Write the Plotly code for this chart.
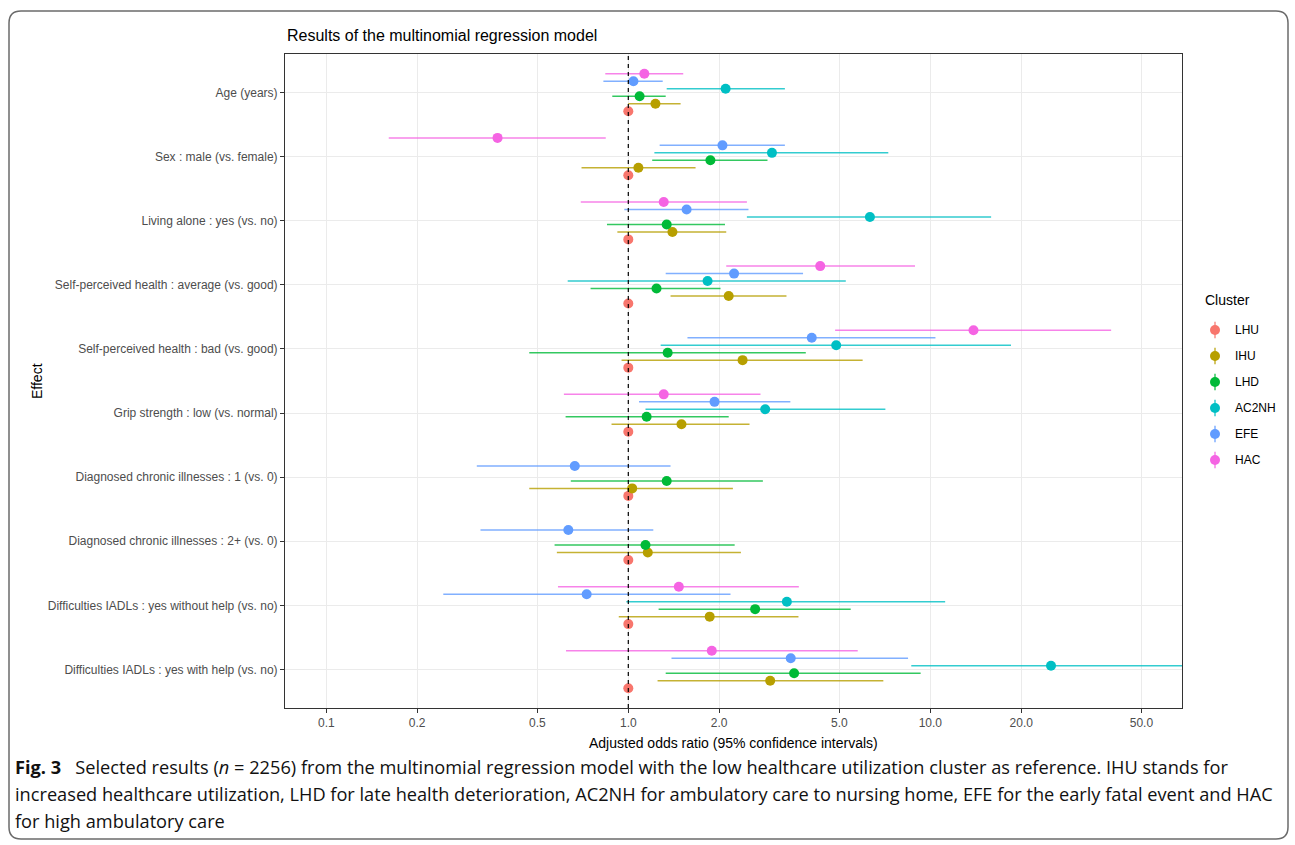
import plotly.graph_objects as go

# ---------------- data ----------------
effects = [
    "Age (years)",
    "Sex : male (vs. female)",
    "Living alone : yes (vs. no)",
    "Self-perceived health : average (vs. good)",
    "Self-perceived health : bad (vs. good)",
    "Grip strength : low (vs. normal)",
    "Diagnosed chronic illnesses : 1 (vs. 0)",
    "Diagnosed chronic illnesses : 2+ (vs. 0)",
    "Difficulties IADLs : yes without help (vs. no)",
    "Difficulties IADLs : yes with help (vs. no)",
]

clusters = ["LHU", "IHU", "LHD", "AC2NH", "EFE", "HAC"]
colors = ["#F8766D", "#B79F00", "#00BA38", "#00BFC4", "#619CFF", "#F564E3"]

lhu_or = [1.0] * 10
lhu_lo = [1.0] * 10
lhu_hi = [1.0] * 10

ihu_or = [1.23, 1.08, 1.40, 2.15, 2.39, 1.50, 1.03, 1.16, 1.86, 2.95]
ihu_lo = [1.00, 0.70, 0.92, 1.38, 0.95, 0.88, 0.47, 0.58, 0.93, 1.25]
ihu_hi = [1.49, 1.67, 2.11, 3.34, 5.97, 2.52, 2.22, 2.36, 3.66, 6.99]

lhd_or = [1.09, 1.87, 1.34, 1.24, 1.35, 1.15, 1.34, 1.14, 2.63, 3.54]
lhd_lo = [0.885, 1.20, 0.85, 0.75, 0.47, 0.62, 0.645, 0.57, 1.26, 1.33]
lhd_hi = [1.33, 2.89, 2.09, 2.02, 3.87, 2.15, 2.79, 2.25, 5.45, 9.29]

ac2nh_or = [2.10, 2.99, 6.31, 1.83, 4.88, 2.84, None, None, 3.35, 25.1]
ac2nh_lo = [1.34, 1.22, 2.47, 0.63, 1.28, 1.14, None, None, 0.985, 8.65]
ac2nh_hi = [3.30, 7.26, 15.9, 5.25, 18.5, 7.10, None, None, 11.2, 100.0]

efe_or = [1.04, 2.05, 1.56, 2.24, 4.05, 1.93, 0.665, 0.633, 0.728, 3.45]
efe_lo = [0.827, 1.27, 0.97, 1.33, 1.57, 1.085, 0.315, 0.324, 0.244, 1.39]
efe_hi = [1.30, 3.30, 2.50, 3.79, 10.4, 3.44, 1.38, 1.21, 2.18, 8.44]

hac_or = [1.13, 0.369, 1.31, 4.32, 13.9, 1.31, None, None, 1.47, 1.89]
hac_lo = [0.839, 0.161, 0.696, 2.11, 4.84, 0.612, None, None, 0.585, 0.622]
hac_hi = [1.52, 0.842, 2.47, 8.90, 39.7, 2.74, None, None, 3.67, 5.75]

series_or = [lhu_or, ihu_or, lhd_or, ac2nh_or, efe_or, hac_or]
series_lo = [lhu_lo, ihu_lo, lhd_lo, ac2nh_lo, efe_lo, hac_lo]
series_hi = [lhu_hi, ihu_hi, lhd_hi, ac2nh_hi, efe_hi, hac_hi]

x_tickvals = [0.1, 0.2, 0.5, 1, 2, 5, 10, 20, 50]
x_ticktext = ["0.1", "0.2", "0.5", "1.0", "2.0", "5.0", "10.0", "20.0", "50.0"]
REFERENCE_OR = 1.0

title_text = "Results of the multinomial regression model"
x_title = "Adjusted odds ratio (95% confidence intervals)"
y_title = "Effect"
legend_title = "Cluster"
caption_lines = [
    "<b>Fig. 3</b>\u00a0\u00a0\u00a0Selected results (<i>n</i>\u00a0=\u00a02256) from the multinomial regression model with the low healthcare utilization cluster as reference. IHU stands for",
    "increased healthcare utilization, LHD for late health deterioration, AC2NH for ambulatory care to nursing home, EFE for the early fatal event and HAC",
    "for high ambulatory care",
]

# ---------------- layout geometry ----------------
W, H = 1295, 845
ML, MR, MT, MB = 285, 10, 54, 137
PW = W - ML - MR
PH = H - MT - MB


def px(xp):
    return (xp - ML) / PW


def py(yp):
    return (H - MB - yp) / PH


n_eff = len(effects)
cat_pos = [n_eff - i for i in range(n_eff)]  # top category highest
dodge = 0.7
n_cl = len(clusters)
offsets = [(k - (n_cl - 1) / 2) * dodge / n_cl for k in range(n_cl)]

font_main = "Liberation Sans, Arial, sans-serif"


def rgba(hexc, a):
    h = hexc.lstrip("#")
    return "rgba(%d,%d,%d,%s)" % (int(h[0:2], 16), int(h[2:4], 16), int(h[4:6], 16), a)


fig = go.Figure()

for k, name in enumerate(clusters):
    xs, ys, ep, em = [], [], [], []
    for i in range(n_eff):
        v = series_or[k][i]
        if v is None:
            continue
        lo = series_lo[k][i]
        hi = series_hi[k][i]
        xs.append(v)
        ys.append(cat_pos[i] + offsets[k])
        ep.append(hi - v)
        em.append(v - lo)
    fig.add_trace(go.Scatter(
        x=xs, y=ys, mode="markers", name=name, showlegend=False,
        marker=dict(color=colors[k], size=10, line=dict(width=0)),
        error_x=dict(type="data", array=ep, arrayminus=em, symmetric=False,
                     width=0, thickness=1.5, color=rgba(colors[k], 0.8)),
        xaxis="x", yaxis="y", hoverinfo="x+name",
    ))

# manual legend (point-range glyphs)
for k, name in enumerate(clusters):
    fig.add_trace(go.Scatter(
        x=[0], y=[n_cl - k], mode="markers", showlegend=False, hoverinfo="skip",
        marker=dict(color=colors[k], size=10),
        error_y=dict(type="constant", value=0.32, width=0, thickness=1.5,
                     color=rgba(colors[k], 0.8)),
        xaxis="x2", yaxis="y2",
    ))

annotations = []
for k, name in enumerate(clusters):
    annotations.append(dict(
        text=name, xref="paper", yref="y2", x=px(1233), y=n_cl - k,
        xanchor="left", yanchor="middle", showarrow=False,
        font=dict(family=font_main, size=12, color="#000000")))
annotations.append(dict(
    text=legend_title, xref="paper", yref="paper", x=px(1203), y=py(300),
    xanchor="left", yanchor="middle", showarrow=False,
    font=dict(family=font_main, size=14, color="#000000")))
annotations.append(dict(
    text=title_text, xref="paper", yref="paper", x=0, y=py(36),
    xanchor="left", yanchor="middle", showarrow=False,
    font=dict(family=font_main, size=16, color="#000000")))
annotations.append(dict(
    text=x_title, xref="paper", yref="paper", x=px(733.6), y=py(743),
    xanchor="center", yanchor="middle", showarrow=False,
    font=dict(family=font_main, size=14, color="#000000")))
annotations.append(dict(
    text=y_title, xref="paper", yref="paper", x=px(37), y=py(381),
    xanchor="center", yanchor="middle", showarrow=False, textangle=-90,
    font=dict(family=font_main, size=14, color="#000000")))
cap_y = [767, 794, 821]
for line, yy in zip(caption_lines, cap_y):
    annotations.append(dict(
        text=line, xref="paper", yref="paper", x=px(13), y=py(yy),
        xanchor="left", yanchor="middle", showarrow=False,
        font=dict(family="Open Sans, Noto Sans, sans-serif", size=18.2, color="#111111")))

# rounded outer frame
x0, x1 = px(9), px(1288)
yt, yb = py(11), py(839)
rx, ry = 12 / PW, 12 / PH
frame = (f"M {x0+rx},{yt} L {x1-rx},{yt} Q {x1},{yt} {x1},{yt-ry} "
         f"L {x1},{yb+ry} Q {x1},{yb} {x1-rx},{yb} L {x0+rx},{yb} "
         f"Q {x0},{yb} {x0},{yb+ry} L {x0},{yt-ry} Q {x0},{yt} {x0+rx},{yt} Z")

shapes = [
    dict(type="line", xref="x", yref="paper", x0=REFERENCE_OR, x1=REFERENCE_OR, y0=0, y1=1,
         line=dict(color="#000000", width=1.2, dash="4px,4px"), layer="above"),
    dict(type="path", xref="paper", yref="paper", path=frame,
         line=dict(color="#6b6b6b", width=1.5), layer="below"),
]

xmin_log = -(628.3 - ML) / 302.0
xmax_log = (ML + 0.8973 * PW - 628.3) / 302.0

fig.update_layout(
    width=W, height=H,
    margin=dict(l=ML, r=MR, t=MT, b=MB),
    paper_bgcolor="white", plot_bgcolor="white",
    font=dict(family=font_main, size=12, color="#4D4D4D"),
    showlegend=False,
    annotations=annotations,
    shapes=shapes,
    xaxis=dict(
        type="log", domain=[0, 0.8973], range=[xmin_log, xmax_log],
        tickvals=x_tickvals, ticktext=x_ticktext,
        showgrid=True, gridcolor="#EBEBEB", gridwidth=1,
        showline=True, linecolor="#333333", linewidth=1, mirror=True,
        ticks="outside", ticklen=4, tickcolor="#333333", tickwidth=1,
        tickfont=dict(family=font_main, size=12, color="#4D4D4D"),
        zeroline=False, anchor="y",
    ),
    yaxis=dict(
        range=[0.4, n_eff + 0.6], tickvals=cat_pos, ticktext=effects,
        showgrid=True, gridcolor="#EBEBEB", gridwidth=1,
        showline=True, linecolor="#333333", linewidth=1, mirror=True,
        ticks="outside", ticklen=4, tickcolor="#333333", tickwidth=1,
        tickfont=dict(family=font_main, size=12, color="#4D4D4D"),
        zeroline=False, anchor="x",
    ),
    xaxis2=dict(domain=[0.92, 0.94], range=[-1, 1], visible=False, anchor="y2", fixedrange=True),
    yaxis2=dict(domain=[py(473), py(317)], range=[0.5, n_cl + 0.5], visible=False,
                anchor="x2", fixedrange=True),
)

fig.write_html("out.html", config={"displayModeBar": False},
               post_script="document.body.style.margin='0';document.body.style.overflow='hidden';")
